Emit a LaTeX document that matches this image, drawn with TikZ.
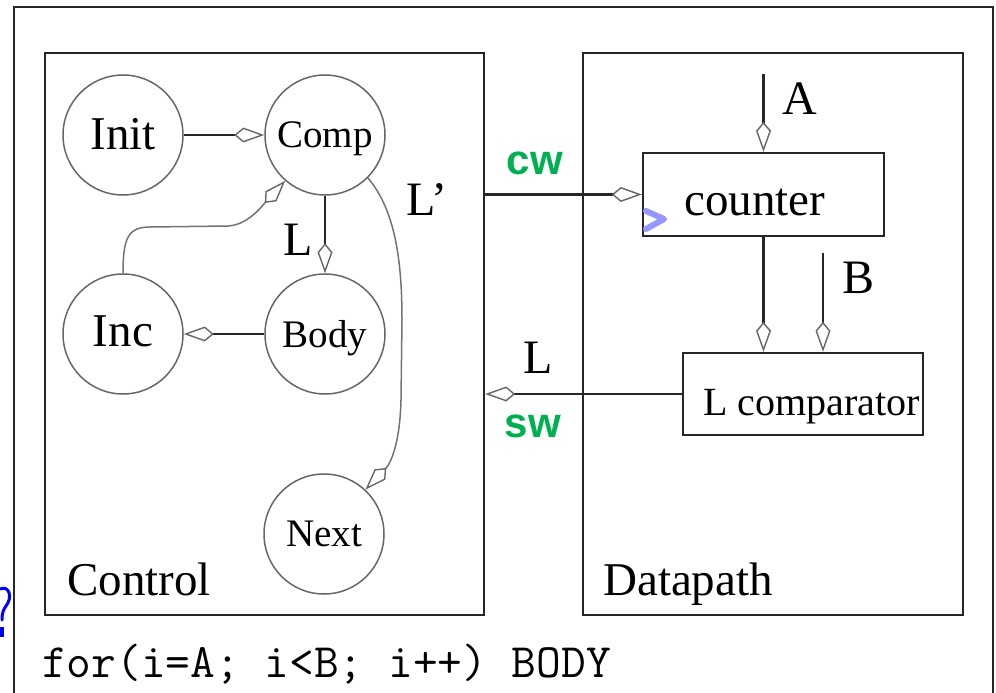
\documentclass[tikz,border=0pt]{standalone}
\usepackage{fontspec}
\setmainfont{Liberation Serif}
\setsansfont{Liberation Sans}
\usetikzlibrary{arrows.meta}
\definecolor{handgreen}{RGB}{0,176,80}
\definecolor{clockblue}{RGB}{150,150,255}
\definecolor{qblue}{RGB}{0,0,255}
\begin{document}
\begin{tikzpicture}[x=1pt,y=-1pt,
  state/.style={circle, draw=black!60, line width=1.5pt, minimum size=120pt, inner sep=0pt},
  blk/.style={draw=black!85, line width=2.4pt, inner sep=0pt},
  kitetip/.style={-{Kite[open, length=30pt, width=15pt, inset=9pt, line width=1.4pt, color=black!60]}},
  wire/.style={draw=black!85, line width=2.2pt, kitetip},
  soft/.style={draw=black!55, line width=1.5pt, kitetip},
  lab/.style={font=\fontsize{48}{56}\selectfont, inner sep=0pt},
  small/.style={font=\fontsize{39}{46}\selectfont, text depth=0pt},
  big/.style={font=\fontsize{47}{56}\selectfont},
  hand/.style={font=\sffamily\bfseries\fontsize{42}{52}\selectfont, text=handgreen, inner sep=0pt}
]
\useasboundingbox (0,0) rectangle (996,693);
% outer frame
\draw[line width=2.4pt, black!85] (14,693) -- (14,7) -- (993,7) -- (993,693);
% boxes
\node[blk, minimum width=439pt, minimum height=562pt] (ctrl) at (264.5,334) {};
\node[blk, minimum width=380pt, minimum height=562pt] (dp) at (773,334) {};
\node[blk, minimum width=241pt, minimum height=83pt] (cnt) at (763.5,194.5) {};
\node[blk, minimum width=240pt, minimum height=82pt] (cmp) at (803,394) {};
\node[font=\fontsize{47}{56}\selectfont, anchor=base, inner sep=0pt] (cnttext) at (755,215) {counter};
\node[font=\fontsize{40}{48}\selectfont, anchor=base west, inner sep=0pt] (cmptext) at (703,415) {L comparator};
\node[big, anchor=base west, inner sep=0pt] (ctrltext) at (67,595) {Control};
\node[big, anchor=base west, inner sep=0pt] (dptext) at (603,595) {Datapath};
% states
\node[state, big] (init) at (123,135) {\raisebox{3pt}{Init}};
\node[state, small] (comp) at (325,135) {Comp};
\node[state, big] (inc) at (123,334) {\raisebox{5pt}{Inc}};
\node[state, small] (body) at (325,334) {Body};
\node[state, small] (next) at (324,534) {Next};
% control edges
\draw[wire] (init) -- (comp);
\draw[wire] (comp) -- (body);
\draw[wire] (body) -- (inc);
\draw[soft] (inc.north) .. controls (123,238) and (128,227) .. (150,227) -- (228,226) .. controls (248,225) and (262,206) .. (comp.-131);
\draw[soft] (comp.-45) .. controls (395,210) and (402,260) .. (402,320) -- (401,400) .. controls (400,440) and (392,462) .. (next.47);
\node[lab] (lbody) at (298,240) {L};
\node[lab] (lnext) at (427,200) {L’};
% datapath wires
\coordinate (atop) at (763.5,74);
\coordinate (btop) at (823,253);
\draw[wire] (atop) -- (atop |- cnt.north);
\draw[wire] (cnt.south) -- (cnt.south |- cmp.north);
\draw[wire] (btop) -- (btop |- cmp.north);
\draw[wire] (ctrl.east |- cnt.west) -- (cnt.west);
\draw[wire] (cmp.west) -- (cmp.west -| ctrl.east);
\node[lab] (la) at (800,99) {A};
\node[lab] (lb) at (858,278) {B};
\node[lab] (ll) at (538,358) {L};
% annotations
\node[hand] (cw) at (535,163) {cw};
\node[hand] (sw) at (533,426) {sw};
\draw[clockblue, line width=6pt, line cap=round, line join=round] (646,211) -- (664,219) -- (646,229);
\draw[qblue, line width=3pt, line cap=round] (0,589) .. controls (9,585) and (13,597) .. (6,606) .. controls (3,610) and (2,614) .. (2,620);
\fill[qblue] (0,627) rectangle (4,637);
% code line
\node[anchor=base west, inner sep=0pt, font=\ttfamily\fontsize{48}{56}\selectfont] (code) at (42,677) {for(i=A; i<B; i++) BODY};
\end{tikzpicture}
\end{document}
